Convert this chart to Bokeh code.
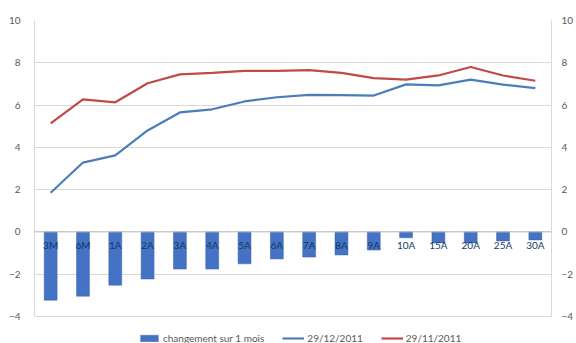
from bokeh.plotting import figure
from bokeh.models import FactorRange, Range1d, LinearAxis, Legend, LegendItem, FixedTicker, Span
from bokeh.core.properties import value
from bokeh.embed import file_html
from bokeh.resources import INLINE

categories = ["3M", "6M", "1A", "2A", "3A", "4A", "5A", "6A", "7A", "8A", "9A", "10A", "15A", "20A", "25A", "30A"]
change_1m = [-3.23, -3.04, -2.52, -2.23, -1.76, -1.76, -1.51, -1.28, -1.19, -1.09, -0.86, -0.28, -0.52, -0.52, -0.43, -0.38]
curve_dec = [1.85, 3.28, 3.62, 4.80, 5.65, 5.80, 6.17, 6.37, 6.48, 6.47, 6.45, 6.98, 6.93, 7.20, 6.97, 6.80]
curve_nov = [5.13, 6.27, 6.13, 7.03, 7.45, 7.52, 7.62, 7.62, 7.65, 7.52, 7.27, 7.20, 7.40, 7.80, 7.40, 7.15]
y_ticks = [-4, -2, 0, 2, 4, 6, 8, 10]
series_names = ["changement sur 1 mois", "29/12/2011", "29/11/2011"]

FONT = "Lato"
GRID = "#D9D9D9"
LABEL = "#595959"

# extra room under -4 inside the frame holds the legend
p = figure(width=576, height=343, x_range=FactorRange(*categories, range_padding=0),
           y_range=Range1d(-5.28, 10), output_backend="svg", toolbar_location=None,
           x_axis_location=None,
           min_border_left=34, min_border_right=16, min_border_top=20, min_border_bottom=0)
p.outline_line_color = None
p.background_fill_color = "white"
p.border_fill_color = "white"

bars = p.vbar(x=categories, top=change_1m, bottom=0, width=0.4, fill_color="#4472C4", line_color="#3A65B0", line_width=0.5)
l1 = p.line(categories, curve_dec, line_color="#4A7EBB", line_width=2.2)
l2 = p.line(categories, curve_nov, line_color="#BE4B48", line_width=2.2)

p.add_layout(Span(location=0, dimension="width", line_color="#BFBFBF", line_width=1))

p.text(x=categories, y=[0] * len(categories), text=categories, text_align="center",
       text_baseline="middle", y_offset=13, text_font=value(FONT), text_font_size="10px",
       text_color="#17375E")

p.xgrid.grid_line_color = None
p.ygrid.grid_line_color = GRID
p.ygrid.ticker = FixedTicker(ticks=y_ticks)

ya = p.yaxis[0]
ya.ticker = FixedTicker(ticks=y_ticks)
ya.bounds = (-4, 10)
ya.axis_line_color = GRID
ya.major_tick_line_color = None
ya.minor_tick_line_color = None
ya.major_label_standoff = 8
ya.major_label_text_font = FONT
ya.major_label_text_font_size = "10px"
ya.major_label_text_color = LABEL

ra = LinearAxis(ticker=FixedTicker(ticks=y_ticks), bounds=(-4, 10))
ra.axis_line_color = GRID
ra.major_tick_line_color = None
ra.minor_tick_line_color = None
ra.major_label_standoff = 4
ra.major_label_text_font = FONT
ra.major_label_text_font_size = "10px"
ra.major_label_text_color = LABEL
p.add_layout(ra, "right")

legend = Legend(items=[LegendItem(label=series_names[0], renderers=[bars]),
                       LegendItem(label=series_names[1], renderers=[l1]),
                       LegendItem(label=series_names[2], renderers=[l2])],
                orientation="horizontal", location=(104, -1))
legend.label_text_font = FONT
legend.label_text_font_size = "10px"
legend.label_text_color = LABEL
legend.glyph_width = 22
legend.glyph_height = 8
legend.label_height = 10
legend.label_standoff = 3
legend.spacing = 18
legend.padding = 1
legend.margin = 0
legend.border_line_color = None
legend.background_fill_alpha = 0
p.add_layout(legend)

open("out.html", "w").write(file_html(p, INLINE))
